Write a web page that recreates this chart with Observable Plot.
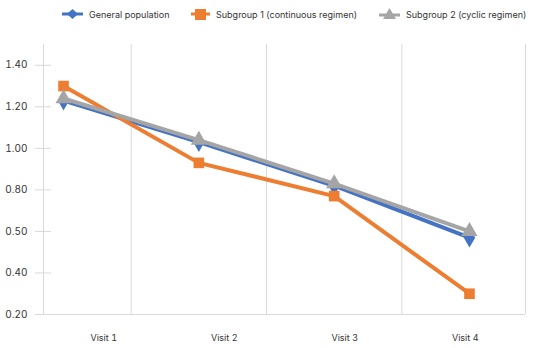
<!DOCTYPE html>
<html>
<head>
<meta charset="utf-8">
<script src="https://cdn.jsdelivr.net/npm/d3@7"></script>
<script src="https://cdn.jsdelivr.net/npm/@observablehq/plot@0.6"></script>
<style>
  html, body { margin: 0; padding: 0; background: #fff; }
  body { width: 550px; height: 348px; overflow: hidden; font-family: Inter, "Noto Sans", sans-serif; }
  #legend { position: relative; height: 28px; width: 550px; font-size: 9px; color: #333; }
  .item { position: absolute; top: 6px; display: flex; align-items: center; height: 16px; }
  .item svg { margin-right: 6px; }
</style>
</head>
<body>
<div id="legend"></div>
<div id="chart"></div>
<script>
const categories = ["Visit 1", "Visit 2", "Visit 3", "Visit 4"];
const seriesNames = ["General population", "Subgroup 1 (continuous regimen)", "Subgroup 2 (cyclic regimen)"];
const generalPopulation = [1.23, 1.03, 0.82, 0.57];
const subgroup1 = [1.30, 0.93, 0.77, 0.30];
const subgroup2 = [1.24, 1.04, 0.83, 0.60];
const yTickValues = [0.2, 0.4, 0.6, 0.8, 1.0, 1.2, 1.4];
const yTickLabels = ["0.20", "0.40", "0.50", "0.80", "1.00", "1.20", "1.40"];

const colors = ["#4472C4", "#ED7D31", "#A5A5A5"];
const symbols = ["diamond", "square", "triangle"];

const seriesValues = [generalPopulation, subgroup1, subgroup2];
const data = [];
seriesValues.forEach((vals, s) => vals.forEach((v, i) => data.push({series: seriesNames[s], i, v})));

// x layout: points on an index scale, labels centered in equal quarters of the frame
const lo = -0.148, hi = 3.414;
const labelPos = categories.map((_, i) => lo + (i + 0.5) * (hi - lo) / categories.length);
const gridX = [lo, ...categories.slice(1).map((_, i) => i + 0.5), hi];

// legend
const legend = document.getElementById("legend");
const legendLeft = [62, 191, 379];
const swatch = [
  `<svg width="21" height="12"><line x1="0" y1="6" x2="21" y2="6" stroke="${colors[0]}" stroke-width="3"/><path d="M10.5 1 L16 6 L10.5 11 L5 6 Z" fill="${colors[0]}"/></svg>`,
  `<svg width="19" height="12"><line x1="0" y1="6" x2="19" y2="6" stroke="${colors[1]}" stroke-width="3"/><rect x="4" y="1" width="11" height="11" fill="${colors[1]}"/></svg>`,
  `<svg width="21" height="12"><line x1="0" y1="7" x2="21" y2="7" stroke="${colors[2]}" stroke-width="3"/><path d="M10.5 0 L17 11 L4 11 Z" fill="${colors[2]}"/></svg>`
];
seriesNames.forEach((name, k) => {
  const d = document.createElement("div");
  d.className = "item";
  d.style.left = legendLeft[k] + "px";
  d.innerHTML = swatch[k] + `<span>${name}</span>`;
  legend.appendChild(d);
});

const chart = Plot.plot({
  width: 550,
  height: 320,
  marginTop: 16,
  marginBottom: 34,
  marginLeft: 43,
  marginRight: 25,
  style: {fontFamily: "Inter, 'Noto Sans', sans-serif", fontSize: "10px", color: "#333", background: "#fff"},
  x: {type: "linear", domain: [lo, hi], axis: null},
  y: {domain: [0.2, 1.5], axis: null},
  color: {domain: seriesNames, range: colors},
  symbol: {domain: seriesNames, range: symbols},
  marks: [
    Plot.ruleX(gridX, {stroke: "#d9d9d9", strokeWidth: 1}),
    Plot.ruleY([0.2], {stroke: "#d9d9d9", strokeWidth: 1}),
    Plot.axisY({ticks: yTickValues, tickSize: 16, dx: 8, label: null, tickFormat: () => "", stroke: "#d9d9d9", strokeOpacity: 1}),
    Plot.axisY({ticks: yTickValues, tickSize: 0, tickPadding: 16, label: null, fontSize: 10, fill: "#333",
      tickFormat: d => yTickLabels[yTickValues.indexOf(d)]}),
    Plot.axisX({ticks: labelPos, tickSize: 0, tickPadding: 20, label: null, fontSize: 9, fill: "#333",
      tickFormat: d => categories[labelPos.indexOf(d)]}),
    Plot.line(data, {x: "i", y: "v", z: "series", stroke: "series", strokeWidth: 4, strokeLinejoin: "miter"}),
    Plot.dot(data, {x: "i", y: "v", fill: "series", symbol: "series", r: 6, stroke: "none"})
  ]
});
document.getElementById("chart").appendChild(chart);
</script>
</body>
</html>
